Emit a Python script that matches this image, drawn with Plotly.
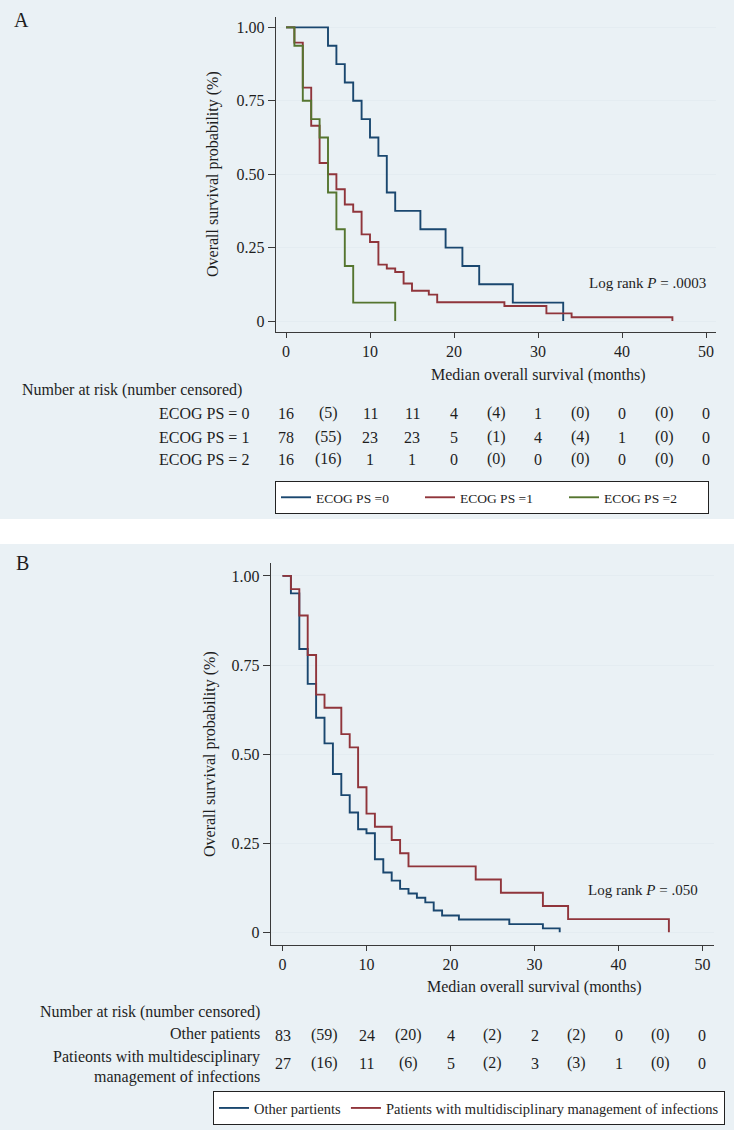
import plotly.graph_objects as go

# ---------------- data ----------------
# Panel A: Kaplan-Meier by ECOG PS
ecog0_t = [0, 5, 6, 7, 8, 9, 10, 11, 12, 13, 16, 19, 21, 23, 27, 33]
ecog0_s = [1, .9375, .875, .8125, .75, .6875, .625, .5625, .4375, .375, .3125, .25, .1875, .125, .0625, 0]
ecog1_t = [0, 1, 2, 3, 4, 5, 6, 7, 8, 9, 10, 11, 12, 13, 14, 15, 17, 18, 26, 31, 34, 46]
ecog1_s = [1, .948, .795, .665, .538, .50, .449, .397, .372, .295, .269, .192, .179, .167, .128, .103, .090, .064, .051, .026, .013, 0]
ecog2_t = [0, 1, 2, 3, 4, 5, 6, 7, 8, 13]
ecog2_s = [1, .9375, .75, .6875, .625, .4375, .3125, .1875, .0625, 0]

# Panel B: multidisciplinary management
other_t = [0, 1, 2, 3, 4, 5, 6, 7, 8, 9, 10, 11, 12, 13, 14, 15, 16, 17, 18, 19, 21, 27, 31, 33]
other_s = [1, .951, .795, .697, .602, .530, .444, .385, .336, .289, .278, .205, .168, .145, .122, .109, .097, .084, .061, .047, .036, .023, .011, 0]
multi_t = [0, 1, 2, 3, 4, 5, 7, 8, 9, 10, 11, 13, 14, 15, 23, 26, 31, 34, 46]
multi_s = [1, .963, .889, .778, .667, .630, .556, .519, .407, .333, .296, .259, .222, .185, .148, .111, .074, .037, 0]

# risk tables (columns at 0,5,...,50 months)
risk_x = [0, 5, 10, 15, 20, 25, 30, 35, 40, 45, 50]
risk_a_labels = ["ECOG PS = 0", "ECOG PS = 1", "ECOG PS = 2"]
risk_a = [
    ["16", "(5)", "11", "11", "4", "(4)", "1", "(0)", "0", "(0)", "0"],
    ["78", "(55)", "23", "23", "5", "(1)", "4", "(4)", "1", "(0)", "0"],
    ["16", "(16)", "1", "1", "0", "(0)", "0", "(0)", "0", "(0)", "0"],
]
risk_b_labels = ["Other patients", "Patieonts with multidesciplinary", "management of infections"]
risk_b = [
    ["83", "(59)", "24", "(20)", "4", "(2)", "2", "(2)", "0", "(0)", "0"],
    ["27", "(16)", "11", "(6)", "5", "(2)", "3", "(3)", "1", "(0)", "0"],
]
x_ticks = [0, 10, 20, 30, 40, 50]
y_ticks = [0, 0.25, 0.5, 0.75, 1.0]
y_ticktext = ["0", "0.25", "0.50", "0.75", "1.00"]

# ---------------- style ----------------
W, H = 734, 1130
FONT = "Liberation Serif, Times New Roman, serif"
TXT = "#1e1e1e"
NAVY = "#1a476f"
MAROON = "#90353b"
GREEN = "#55752f"
OUTER = "#eaf1f5"
PLOT_BG = "#fbfcfd"
GRID = "#e4ecf1"
AXIS = "#3a3a3a"


def py(p):
    return 1 - p / H


def px(p):
    return p / W


fig = go.Figure()

for t, s, c, n in [(ecog0_t, ecog0_s, NAVY, "ECOG PS =0"),
                   (ecog1_t, ecog1_s, MAROON, "ECOG PS =1"),
                   (ecog2_t, ecog2_s, GREEN, "ECOG PS =2")]:
    fig.add_trace(go.Scatter(x=t, y=s, mode="lines", line=dict(color=c, width=1.9, shape="hv"),
                             name=n, xaxis="x", yaxis="y", legend="legend"))

for t, s, c, n in [(other_t, other_s, NAVY, "Other partients"),
                   (multi_t, multi_s, MAROON, "Patients with multidisciplinary management of infections")]:
    fig.add_trace(go.Scatter(x=t, y=s, mode="lines", line=dict(color=c, width=1.9, shape="hv"),
                             name=n, xaxis="x2", yaxis="y2", legend="legend2"))

axfont = dict(family=FONT, size=16, color=TXT)
common_x = dict(tickvals=x_ticks, ticks="outside", ticklen=5, tickwidth=1.2, tickcolor=AXIS,
                showline=True, linecolor=AXIS, linewidth=1.4, showgrid=False, zeroline=False,
                tickfont=axfont, fixedrange=True)
common_y = dict(tickvals=y_ticks, ticktext=y_ticktext, ticks="outside", ticklen=7, tickwidth=1.2,
                tickcolor=AXIS, showline=True, linecolor=AXIS, linewidth=1.4, showgrid=True,
                gridcolor=GRID, gridwidth=1, zeroline=False, tickfont=axfont, fixedrange=True)

fig.update_layout(
    width=W, height=H, margin=dict(l=0, r=0, t=0, b=0, autoexpand=False),
    paper_bgcolor="white", plot_bgcolor=PLOT_BG,
    font=dict(family=FONT, size=16, color=TXT),
    xaxis=dict(domain=[px(276), px(716)], range=[-1.19, 51.19], anchor="y", **common_x),
    yaxis=dict(domain=[py(331.7), py(17)], range=[-0.0364, 1.0354], anchor="x", **common_y),
    xaxis2=dict(domain=[px(271), px(714)], range=[-1.37, 51.37], anchor="y2", **common_x),
    yaxis2=dict(domain=[py(945), py(563)], range=[-0.0356, 1.0362], anchor="x2", **common_y),
    legend=dict(orientation="h", x=px(709), y=py(481), xanchor="right", yanchor="top",
                bgcolor="white", bordercolor="#222", borderwidth=1,
                font=dict(family=FONT, size=13.5, color=TXT),
                entrywidth=99, entrywidthmode="pixels", itemwidth=30, tracegroupgap=0),
    legend2=dict(orientation="h", x=px(725), y=py(1091), xanchor="right", yanchor="top",
                 bgcolor="white", bordercolor="#222", borderwidth=1,
                 font=dict(family=FONT, size=14.5, color=TXT), itemwidth=30),
    showlegend=True,
)

# panel backgrounds
fig.add_shape(type="rect", xref="paper", yref="paper", x0=0, x1=1, y0=py(519), y1=1,
              fillcolor=OUTER, line_width=0, layer="below")
fig.add_shape(type="rect", xref="paper", yref="paper", x0=0, x1=1, y0=0, y1=py(544),
              fillcolor=OUTER, line_width=0, layer="below")

ann = []


def text(x, y, s, xref="paper", yref="paper", size=16, xanchor="center", angle=0):
    ann.append(dict(x=x, y=y, xref=xref, yref=yref, text=s, showarrow=False,
                    xanchor=xanchor, yanchor="middle", textangle=angle,
                    font=dict(family=FONT, size=size, color=TXT)))


# panel letters
text(px(12), py(20), "A", size=20, xanchor="left")
text(px(14), py(563), "B", size=20, xanchor="left")

# axis titles
text(px(213), py(174), "Overall survival probability (%)", angle=-90)
text(px(210), py(754), "Overall survival probability (%)", angle=-90)
text(30, py(375), "Median overall survival (months)", xref="x")
text(30, py(987), "Median overall survival (months)", xref="x2")

# log rank
text(50.2, 0.129, "Log rank <i>P</i> = .0003", xref="x", yref="y", size=15, xanchor="right")
text(49.7, 0.119, "Log rank <i>P</i> = .050", xref="x2", yref="y2", size=15, xanchor="right")

# risk table A
text(px(20), py(390), "Number at risk (number censored)", xanchor="left")
for lab, row, yy in zip(risk_a_labels, risk_a, [413, 437, 459]):
    text(px(251), py(yy), lab, xanchor="right")
    for xv, v in zip(risk_x, row):
        text(xv, py(yy), v, xref="x")

# risk table B
text(px(262), py(1012), "Number at risk (number censored)", xanchor="right")
text(px(262), py(1034), risk_b_labels[0], xanchor="right")
text(px(262), py(1057), risk_b_labels[1], xanchor="right")
text(px(262), py(1077), risk_b_labels[2], xanchor="right")
for row, yy in zip(risk_b, [1035, 1063]):
    for xv, v in zip(risk_x, row):
        text(xv, py(yy), v, xref="x2")

fig.update_layout(annotations=ann)
fig.write_html("out.html", config={"displayModeBar": False},
               post_script="document.body.style.margin='0';document.body.style.overflow='hidden';")
